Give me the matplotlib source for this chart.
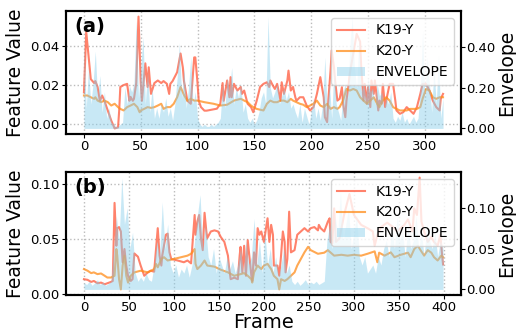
import numpy as np
import matplotlib
matplotlib.use("Agg")
import matplotlib.pyplot as plt

# ---------------- Panel (a) data ----------------
k19_a_frames = [0, 2, 5, 6, 9, 10, 12, 14, 16, 18, 21, 24, 27, 30, 31, 32, 35, 38, 40, 41, 43, 44, 46, 48,
                50, 51, 54, 56, 57, 59, 62, 65, 68, 70, 73, 75, 76, 78, 82, 85, 87, 88, 91, 94, 97, 98,
                100, 101, 103, 106, 108, 117, 120, 122, 123, 125, 126, 128, 129, 130, 132, 135, 138, 139,
                141, 144, 147, 149, 152, 155, 158, 161, 163, 164, 166, 167, 168, 170, 173, 174, 176, 179,
                180, 182, 184, 186, 187, 190, 193, 196, 199, 202, 205, 208, 211, 212, 214, 215, 217, 218,
                220, 221, 223, 225, 227, 228, 230, 231, 233, 234, 237, 240, 243, 244, 246, 247, 249, 250,
                252, 253, 255, 256, 258, 259, 260, 262, 263, 265, 266, 269, 272, 274, 275, 278, 281, 284,
                287, 290, 293, 296, 298, 301, 304, 307, 310, 313, 314, 316]
k19_a = [0.0163, 0.0470, 0.0290, 0.0230, 0.0210, 0.0220, 0.0190, 0.0120, 0.0147, 0.0120, 0.0070, 0.0020,
         -0.0020, -0.0015, 0.0070, 0.0190, 0.0200, 0.0206, 0.0120, 0.0140, 0.0120, 0.0130, 0.0210, 0.0547,
         0.0210, 0.0120, 0.0310, 0.0190, 0.0290, 0.0155, 0.0210, 0.0223, 0.0210, 0.0220, 0.0206, 0.0155,
         0.0206, 0.0220, 0.0265, 0.0360, 0.0290, 0.0220, 0.0120, 0.0105, 0.0340, 0.0340,
         0.0206, 0.0120, 0.0088, 0.0070, 0.0070, 0.0080, 0.0105, 0.0210, 0.0120, 0.0190, 0.0223, 0.0138,
         0.0240, 0.0138, 0.0206, 0.0172, 0.0190, 0.0155,
         0.0172, 0.0105, 0.0088, 0.0062, 0.0120, 0.0190, 0.0206, 0.0214, 0.0190, 0.0223, 0.0200, 0.0190,
         0.0180, 0.0206, 0.0120, 0.0214, 0.0155, 0.0223,
         0.0273, 0.0172, 0.0190, 0.0138, 0.0120, 0.0138, 0.0138, 0.0096, 0.0071, 0.0088, 0.0155, 0.0240,
         0.0138, 0.0037, 0.0012, 0.0120, 0.0273, 0.0375,
         0.0290, 0.0223, 0.0121, 0.0130, 0.0189, 0.0105, 0.0037, 0.0120, 0.0206, 0.0260, 0.0358, 0.0459,
         0.0420, 0.0290, 0.0121, 0.0206, 0.0105, 0.0189,
         0.0088, 0.0223, 0.0155, 0.0223, 0.0121, 0.0071, 0.0121, 0.0105, 0.0206, 0.0088, 0.0121, 0.0206,
         0.0206, 0.0121, 0.0071, 0.0054, 0.0062, 0.0088,
         0.0071, 0.0054, 0.0088, 0.0155, 0.0206, 0.0206, 0.0172, 0.0121, 0.0088, 0.0071, 0.0130, 0.0155]

k20_a_frames = [0, 3, 6, 9, 10, 12, 15, 18, 21, 24, 27, 30, 32, 35, 38, 41, 44, 47, 49, 50, 53, 56, 59, 62,
                65, 68, 70, 73, 76, 79, 82, 85, 88, 91, 94, 97, 100, 106, 114, 120, 126, 132, 138, 141,
                144, 147, 149, 152, 155, 158, 161, 164, 167, 170, 173, 176, 179, 182, 184, 187, 190, 193,
                196, 199, 202, 205, 208, 211, 214, 217, 220, 223, 225, 228, 231, 234, 237, 240, 243, 246,
                249, 252, 255, 258, 260, 263, 266, 269, 272, 275, 278, 281, 284, 287, 290, 293, 296, 298,
                301, 304, 307, 310, 313, 316]
k20_a = [0.0147, 0.0147, 0.0138, 0.0130, 0.0138, 0.0121, 0.0113, 0.0121, 0.0113, 0.0096, 0.0105, 0.0088,
         0.0079, 0.0071, 0.0088, 0.0096, 0.0105, 0.0088, 0.0062, 0.0071, 0.0079, 0.0088, 0.0084, 0.0088,
         0.0096, 0.0105, 0.0079, 0.0088, 0.0088, 0.0105, 0.0138, 0.0190, 0.0150, 0.0120, 0.0130, 0.0121,
         0.0121, 0.0113, 0.0105, 0.0096, 0.0100, 0.0121, 0.0130, 0.0121,
         0.0113, 0.0096, 0.0088, 0.0079, 0.0075, 0.0071, 0.0105, 0.0121, 0.0113, 0.0113, 0.0121, 0.0121,
         0.0113, 0.0130, 0.0121, 0.0113, 0.0105, 0.0100,
         0.0088, 0.0096, 0.0105, 0.0121, 0.0096, 0.0088, 0.0105, 0.0079, 0.0088, 0.0079, 0.0088, 0.0121,
         0.0180, 0.0172, 0.0180, 0.0172, 0.0138, 0.0121,
         0.0105, 0.0121, 0.0138, 0.0105, 0.0088, 0.0121, 0.0138, 0.0121, 0.0088, 0.0079, 0.0071, 0.0071,
         0.0071, 0.0079, 0.0079, 0.0079, 0.0088, 0.0130,
         0.0180, 0.0172, 0.0138, 0.0130, 0.0138, 0.0138]

env_a_step = 2
env_a = [0.42, 0.10, 0.30, 0.12, 0.22, 0.38, 0.15, 0.26, 0.08, 0.18, 0.05, 0.10, 0.03,
         0.02, 0.01, 0.01, 0.02, 0.03,
         0.20, 0.12, 0.21, 0.18, 0.22, 0.53, 0.15,
         0.30, 0.45, 0.12, 0.28, 0.08, 0.20, 0.05, 0.10,
         0.05, 0.12, 0.08, 0.15, 0.06, 0.10, 0.04, 0.12,
         0.25, 0.42, 0.15, 0.30, 0.10, 0.20, 0.35, 0.12, 0.18, 0.05,
         0.02, 0.01, 0.02, 0.01, 0.01, 0.02, 0.01, 0.02, 0.03, 0.05,
         0.22, 0.10, 0.25, 0.18, 0.30, 0.12, 0.20, 0.15, 0.22, 0.08, 0.12, 0.05,
         0.03, 0.05, 0.02, 0.04, 0.08, 0.15,
         0.18, 0.12, 0.55, 0.20, 0.15, 0.18, 0.22, 0.12, 0.16, 0.20, 0.14, 0.18, 0.10, 0.12, 0.08,
         0.05, 0.12, 0.03, 0.10, 0.06, 0.02, 0.08, 0.15, 0.05, 0.10, 0.04, 0.12,
         0.35, 0.10, 0.22, 0.05, 0.30, 0.12, 0.08, 0.04,
         0.18, 0.22, 0.15, 0.40, 0.55, 0.30, 0.20, 0.45, 0.18, 0.22, 0.15, 0.25, 0.18, 0.20, 0.12,
         0.22, 0.16, 0.18, 0.10, 0.15, 0.12, 0.18,
         0.05, 0.03, 0.06, 0.04, 0.08, 0.03, 0.05, 0.02, 0.04, 0.06, 0.03, 0.05,
         0.20, 0.48, 0.15, 0.35, 0.22, 0.08, 0.30, 0.12, 0.36, 0.05, 0.15]

# ---------------- Panel (b) data ----------------
k19_b_frames = [0, 4, 8, 11, 15, 19, 23, 26, 30, 32, 34, 36, 37, 39, 41, 43, 45, 47, 49, 52, 54, 56, 60, 63,
                67, 71, 74, 78, 82, 84, 86, 87, 91, 93, 95, 97, 104, 111, 115, 119, 123, 124, 126, 128,
                130, 132, 134, 136, 137, 141, 145, 149, 152, 156, 160, 161, 163, 167, 171, 173, 174, 176,
                178, 180, 182, 186, 187, 189, 191, 193, 195, 197, 200, 204, 206, 208, 210, 211, 215, 217,
                219, 221, 223, 224, 226, 228, 230, 234, 237, 241, 245, 249, 252, 256, 260, 261, 263, 267,
                271, 273, 274, 276, 278, 280, 284, 289, 295, 300, 308, 315, 321, 323, 326, 330, 337, 345,
                348, 356, 360, 365, 367, 370, 373, 375, 378, 382, 386, 389, 393, 396, 398, 399]
k19_b = [0.0136, 0.0130, 0.0111, 0.0120, 0.0099, 0.0105, 0.0090, 0.0099, 0.0111, 0.0120, 0.0830, 0.0440,
         0.0600, 0.0610, 0.0570, 0.0290, 0.0410, 0.0260, 0.0167, 0.0120, 0.0136, 0.0370, 0.0340, 0.0260,
         0.0167, 0.0198, 0.0213, 0.0204, 0.0600, 0.0350, 0.0260, 0.0350, 0.0540, 0.0550, 0.0380, 0.0320,
         0.0306, 0.0290, 0.0306, 0.0280, 0.0720, 0.0540, 0.0660, 0.0720,
         0.0510, 0.0400, 0.0740, 0.0570, 0.0510, 0.0570, 0.0580, 0.0570, 0.0520, 0.0475, 0.0350, 0.0260,
         0.0136, 0.0150, 0.0136, 0.0350, 0.0430, 0.0198,
         0.0440, 0.0167, 0.0490, 0.0167, 0.0120, 0.0380, 0.0260, 0.0600, 0.0540, 0.0570, 0.0475, 0.0690,
         0.0475, 0.0630, 0.0540, 0.0260, 0.0260, 0.0167,
         0.0350, 0.0570, 0.0475, 0.0198, 0.0320, 0.0750, 0.0380, 0.0400, 0.0540, 0.0570, 0.0600, 0.0570,
         0.0600, 0.0610, 0.0580, 0.0630, 0.0600, 0.0570,
         0.0660, 0.0690, 0.0475, 0.0460, 0.0780, 0.0475, 0.0510, 0.0720, 0.0910, 0.0720, 0.0630, 0.0600,
         0.0570, 0.0440, 0.0540, 0.0610, 0.0650, 0.0600,
         0.0570, 0.0630, 0.0680, 0.0570, 0.0780, 0.0720, 0.1060, 0.0660, 0.0570, 0.0475, 0.0520, 0.0475,
         0.0440, 0.0540, 0.0350, 0.0270]

k20_b_frames = [0, 4, 8, 11, 15, 19, 23, 26, 30, 34, 36, 37, 39, 41, 43, 45, 47, 49, 52, 56, 63, 71, 78, 80,
                82, 86, 89, 93, 100, 108, 115, 119, 123, 124, 126, 130, 134, 137, 145, 152, 160, 167, 174,
                178, 182, 186, 187, 189, 193, 197, 200, 204, 208, 211, 215, 217, 219, 223, 226, 230, 234,
                237, 241, 245, 249, 252, 260, 267, 271, 278, 286, 293, 300, 308, 315, 323, 326, 328, 334,
                341, 345, 352, 360, 363, 367, 371, 374, 378, 382, 386, 389, 393, 397, 399]
k20_b = [0.0228, 0.0213, 0.0191, 0.0198, 0.0182, 0.0188, 0.0167, 0.0151, 0.0151, 0.0167, 0.0410, 0.0350,
         0.0136, 0.0043, 0.0260, 0.0350, 0.0167, 0.0105, 0.0167, 0.0198, 0.0213, 0.0198, 0.0228, 0.0275,
         0.0244, 0.0320, 0.0336, 0.0306, 0.0320, 0.0336, 0.0350, 0.0367, 0.0410, 0.0275, 0.0228, 0.0260,
         0.0306, 0.0260, 0.0250, 0.0222, 0.0198, 0.0167, 0.0182,
         0.0191, 0.0167, 0.0136, 0.0105, 0.0198, 0.0260, 0.0228, 0.0260, 0.0275, 0.0228, 0.0167, 0.0136,
         0.0043, 0.0136, 0.0120, 0.0136, 0.0167, 0.0198,
         0.0260, 0.0320, 0.0380, 0.0430, 0.0400, 0.0367, 0.0377, 0.0400, 0.0350, 0.0358, 0.0350, 0.0358,
         0.0350, 0.0367, 0.0389, 0.0290, 0.0377, 0.0350,
         0.0380, 0.0336, 0.0358, 0.0377, 0.0336, 0.0410, 0.0440, 0.0400, 0.0350, 0.0400, 0.0377, 0.0336,
         0.0306, 0.0350, 0.0336]

env_b_step = 3
env_b = [0.008, 0.006, 0.010, 0.005, 0.008, 0.012, 0.006, 0.009, 0.005, 0.007, 0.010,
         0.05, 0.09, 0.06, 0.137, 0.08, 0.10, 0.05, 0.07,
         0.02, 0.01, 0.015, 0.01, 0.02, 0.012, 0.01, 0.03,
         0.06, 0.04, 0.107, 0.05, 0.08, 0.03,
         0.02, 0.03, 0.015, 0.025, 0.02, 0.03, 0.015, 0.03,
         0.06, 0.09, 0.116, 0.05, 0.08, 0.04,
         0.03, 0.05, 0.02, 0.04, 0.03, 0.02, 0.04, 0.025, 0.035, 0.02,
         0.03, 0.05, 0.02, 0.06, 0.03, 0.04, 0.087, 0.03, 0.06, 0.02,
         0.07, 0.03, 0.05, 0.02, 0.04, 0.015, 0.03, 0.05, 0.02, 0.03,
         0.01, 0.006, 0.01, 0.005, 0.008, 0.012, 0.006, 0.009, 0.007, 0.01, 0.006, 0.008, 0.01,
         0.06, 0.08, 0.05, 0.09, 0.07, 0.12, 0.06, 0.08, 0.10, 0.05, 0.07, 0.09, 0.04,
         0.03, 0.04, 0.02, 0.025, 0.03, 0.02, 0.04, 0.03, 0.05,
         0.06, 0.04, 0.08, 0.05, 0.09, 0.06, 0.07, 0.04, 0.08, 0.05, 0.06, 0.09, 0.05, 0.07, 0.04,
         0.08, 0.06, 0.05, 0.07, 0.04, 0.06, 0.05]

panel_labels = ["(a)", "(b)"]
series_names = ["K19-Y", "K20-Y", "ENVELOPE"]
xticks_a = [0, 50, 100, 150, 200, 250, 300]
xticks_b = [0, 50, 100, 150, 200, 250, 300, 350, 400]
yticks_left_a = [0.00, 0.02, 0.04]
yticks_right_a = [0.00, 0.20, 0.40]
yticks_left_b = [0.00, 0.05, 0.10]
yticks_right_b = [0.00, 0.05, 0.10]

# ---------------- Plot ----------------
RED = "#ff6347"
ORANGE = "#ff8c1a"
BLUE = "#87ceeb"

fig = plt.figure(figsize=(5.16, 3.33), dpi=100)
W, H = 516, 333
rects = [
    [66 / W, 1 - 134 / H, 395 / W, 123 / H],
    [66 / W, 1 - 295 / H, 395 / W, 123 / H],
]
panels = [
    (k19_a_frames, k19_a, k20_a_frames, k20_a, env_a, env_a_step, xticks_a, yticks_left_a, yticks_right_a),
    (k19_b_frames, k19_b, k20_b_frames, k20_b, env_b, env_b_step, xticks_b, yticks_left_b, yticks_right_b),
]

for i, (rect, p) in enumerate(zip(rects, panels)):
    f19, v19, f20, v20, env, step, xt, ytl, ytr = p
    ax = fig.add_axes(rect)
    l1, = ax.plot(f19, v19, color=RED, alpha=0.8, lw=1.5, label=series_names[0])
    l2, = ax.plot(f20, v20, color=ORANGE, alpha=0.75, lw=1.5, label=series_names[1])
    ax.set_xticks(xt)
    ax.set_yticks(ytl)
    ax.yaxis.set_major_formatter(matplotlib.ticker.FormatStrFormatter("%.2f"))
    ax.grid(True, linestyle=":", color="#bbbbbb", lw=1.0)
    ax.set_axisbelow(True)
    ax.tick_params(labelsize=9.5, length=3, pad=1.5)
    ax.set_ylabel("Feature Value", fontsize=13.5, labelpad=4)
    for s in ax.spines.values():
        s.set_linewidth(1.5)

    ax2 = ax.twinx()
    env_frames = np.arange(len(env)) * step
    fb = ax2.fill_between(env_frames, 0, env, color=BLUE, alpha=0.45, lw=0, label=series_names[2])
    ax2.set_yticks(ytr)
    ax2.yaxis.set_major_formatter(matplotlib.ticker.FormatStrFormatter("%.2f"))
    ax2.tick_params(labelsize=9.5, length=3, pad=0.5)
    ax2.set_ylabel("Envelope", fontsize=13.5, labelpad=1)
    for s in ax2.spines.values():
        s.set_linewidth(1.5)

    ax.text(0.02, 0.95, panel_labels[i], transform=ax.transAxes, fontsize=14,
            fontweight="bold", va="top", ha="left", zorder=10)
    ax2.legend([l1, l2, fb], series_names, loc="upper right", fontsize=10)
    if i == 1:
        ax.set_xlabel("Frame", fontsize=14, labelpad=-1)

fig.savefig("out.png", dpi=100)
